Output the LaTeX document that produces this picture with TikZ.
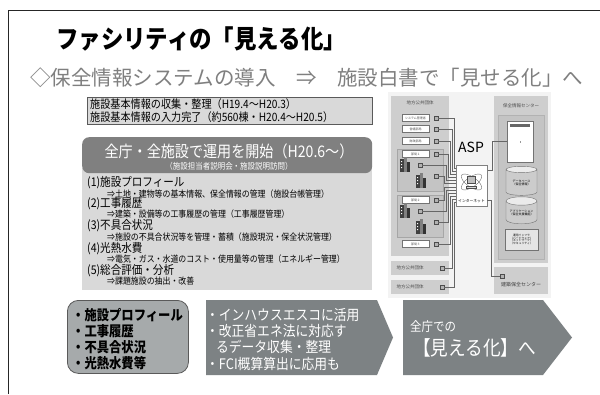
\documentclass[tikz,border=0pt]{standalone}
\usepackage{fontspec}
\usetikzlibrary{calc,shapes.geometric}
\newfontfamily\jp{Noto Sans CJK JP}
\newfontfamily\jpn[FakeStretch=0.88]{Noto Sans CJK JP}
\newcommand{\jpsize}[1]{\fontsize{#1}{#1}\selectfont}

\definecolor{subgray}{RGB}{127,127,127}
\definecolor{panel}{RGB}{217,217,217}
\definecolor{boxline}{RGB}{90,90,90}
\definecolor{darkbox}{RGB}{128,128,128}
\definecolor{arrowgray}{RGB}{125,130,132}
\definecolor{rbox}{RGB}{166,170,171}
\definecolor{diagbg}{RGB}{243,243,243}
\definecolor{orgfill}{RGB}{206,206,206}
\definecolor{orgfill2}{RGB}{196,196,196}

\tikzset{
  sbox/.style={draw=black!55, fill=white, line width=0.4pt, minimum width=27pt,
    minimum height=7pt, font=\jp\jpsize{3}, text=black!70},
  pc/.style={draw=black!70, fill=black!30, line width=0.3pt, minimum width=4pt,
    minimum height=3.5pt},
  wire/.style={draw=black!60, line width=0.5pt},
  itemhead/.style={anchor=west, font=\jpn\jpsize{12}},
  itemsub/.style={anchor=west, font=\jpn\jpsize{9}},
  bldg/.pic={
    \fill[black!75] (0,0) rectangle (4,-13);
    \fill[black!50] (4,0) rectangle (7,-15);
    \fill[black!80] (7,0) rectangle (10,-10);
    \fill[white] (1,-11) rectangle (2,-10) (1,-8) rectangle (2,-7) (1,-5) rectangle (2,-4);
  }
}

\begin{document}
\begin{tikzpicture}[x=1pt,y=-1pt, every node/.style={inner sep=0pt}]
\useasboundingbox (0,0) rectangle (600,394);
\fill[white] (0,0) rectangle (600,394);

% slide frame
\draw[black!85, line width=0.9pt] (8,394) -- (8,10) -- (600,10);

% headings
\node[anchor=west, font=\jpn\bfseries\jpsize{25.5}] (title) at (56,39) {ファシリティの「見える化」};
\node[anchor=west, text=subgray, font=\jp\jpsize{20.5}] (sub) at (30,78)
  {◇保全情報システムの導入　⇒　施設白書で「見せる化」へ};

% preparation box
\node[draw=boxline, fill=panel, line width=0.6pt, minimum width=285pt, minimum height=27pt,
  anchor=north west] (prep) at (87,97) {};
\node[anchor=west, font=\jpn\jpsize{11.5}] (prep1) at (90,104) {施設基本情報の収集・整理（H19.4～H20.3）};
\node[anchor=west, font=\jpn\jpsize{11.5}] (prep2) at (90,117) {施設基本情報の入力完了（約560棟・H20.4～H20.5）};

% list panel and start banner
\node[fill=panel, minimum width=290pt, minimum height=122pt, anchor=north west] (list) at (82,168) {};
\node[fill=darkbox, rounded corners=7pt, minimum width=290pt, minimum height=36pt,
  anchor=north west] (start) at (82,137) {};
\node[text=white, font=\jpn\jpsize{16}] (startT) at (229,151) {全庁・全施設で運用を開始（H20.6～）};
\node[text=white, font=\jpn\jpsize{8.5}] (startS) at (229,166) {（施設担当者説明会・施設説明訪問）};

\node[itemhead] (h1) at (87,183) {(1)施設プロフィール};
\node[itemsub]  (s1) at (107,194) {⇒土地・建物等の基本情報、保全情報の管理（施設台帳管理）};
\node[itemhead] (h2) at (87,204) {(2)工事履歴};
\node[itemsub]  (s2) at (107,214.5) {⇒建築・設備等の工事履歴の管理（工事履歴管理）};
\node[itemhead] (h3) at (87,226) {(3)不具合状況};
\node[itemsub]  (s3) at (107,237.5) {⇒施設の不具合状況等を管理・蓄積（施設現況・保全状況管理）};
\node[itemhead] (h4) at (87,248.5) {(4)光熱水費};
\node[itemsub]  (s4) at (107,259.5) {⇒電気・ガス・水道のコスト・使用量等の管理（エネルギー管理）};
\node[itemhead] (h5) at (87,270.5) {(5)総合評価・分析};
\node[itemsub]  (s5) at (107,281) {⇒課題施設の抽出・改善};

% ---------- ASP system diagram ----------
\fill[diagbg] (388,92) rectangle (551,298);

% local government side
\node[fill=orgfill, minimum width=58pt, minimum height=160pt, anchor=north west] (lg) at (391,96) {};
\node[font=\jp\jpsize{4.5}, text=black!70] (lgT) at (420,103) {地方公共団体};
\node[sbox] (sys) at (415.5,118) {システム管理者};
\node[sbox] (eizen) at (415.5,129) {営繕部局};
\node[sbox] (zaisei) at (415.5,141) {財政部局};
\node[pc] (pc1) at (436,118) {};
\node[pc] (pc2) at (436,129) {};
\node[pc] (pc3) at (436,141) {};

\node[draw=black!35, fill=orgfill2, minimum width=46pt, minimum height=42pt, anchor=north west] (bu1) at (397,149) {};
\node[sbox] (bu1L) at (415.5,154) {部局１};
\node[pc] (pc4) at (436,154) {};
\pic at (400,172) {bldg};
\pic at (416,188) {bldg};
\node[pc] (pc5) at (420,165) {};
\node[pc] (pc6) at (436,176) {};

\node[draw=black!35, fill=orgfill2, minimum width=46pt, minimum height=42pt, anchor=north west] (bu2) at (397,195) {};
\node[sbox] (bu2L) at (415.5,200) {部局２};
\node[pc] (pc7) at (436,200) {};
\pic at (400,218) {bldg};
\pic at (416,234) {bldg};
\node[pc] (pc8) at (420,211) {};
\node[pc] (pc9) at (436,222) {};

\node[sbox] (bu3L) at (415.5,244) {部局３};
\node[pc] (pc10) at (436,244) {};

\node[fill=orgfill, minimum width=58pt, minimum height=14pt, anchor=north west] (lg2) at (391,261) {};
\node[font=\jp\jpsize{4.5}, text=black!70] (lg2T) at (410,268) {地方公共団体};
\node[pc] (pc11) at (442,268) {};
\node[fill=orgfill, minimum width=58pt, minimum height=14pt, anchor=north west] (lg3) at (391,280) {};
\node[font=\jp\jpsize{4.5}, text=black!70] (lg3T) at (410,287) {地方公共団体};
\node[pc] (pc12) at (442,287) {};

% internet cloud box
\node[draw=black!50, fill=white, line width=0.5pt, minimum width=31pt, minimum height=41pt,
  anchor=north west] (inet) at (456,165) {};
\draw[black!55, line width=0.4pt, rotate around={35:(471.5,182)}] (471.5,182) ellipse (12 and 5);
\draw[black!55, line width=0.4pt, rotate around={-35:(471.5,182)}] (471.5,182) ellipse (12 and 5);
\node[draw=black!70, fill=black!25, line width=0.4pt, minimum width=8pt, minimum height=7pt] (mon) at (471.5,180) {};
\node[draw=black!70, fill=black!15, line width=0.3pt, minimum width=10pt, minimum height=2pt] (kbd) at (471.5,187) {};
\node[font=\jp\jpsize{3.8}] (inetL) at (471.5,201) {インターネット};
\node[font=\jp\jpsize{14}] (asp) at (471,147) {ASP};

% data centre side
\node[fill=orgfill, minimum width=54pt, minimum height=167pt, anchor=north west] (hz) at (494,96) {};
\node[font=\jp\jpsize{4.5}, text=black!70] (hzT) at (521,106) {保全情報センター};
\node[fill=orgfill2, draw=black!30, minimum width=46pt, minimum height=144pt, anchor=north west] (hzIn) at (498,115) {};
\node[draw=black!55, fill=white, minimum width=26pt, minimum height=41pt, anchor=north west] (srv) at (507,121) {};
\fill[black!60] (510,124) rectangle (530,127);
\fill[black!40] (519.5,141) rectangle (521,142.5);
\node[cylinder, shape border rotate=90, aspect=0.35, draw=black!55, cylinder uses custom fill,
  cylinder body fill=black!20, cylinder end fill=black!8, minimum width=31pt, minimum height=29pt,
  font=\jp\jpsize{3}, align=center] (db) at (521.5,182.5) {データベース\\（保全情報）};
\node[cylinder, shape border rotate=90, aspect=0.35, draw=black!55, cylinder uses custom fill,
  cylinder body fill=black!20, cylinder end fill=black!8, minimum width=31pt, minimum height=27pt,
  font=\jp\jpsize{3}, align=center] (app) at (521.5,212.5) {アプリケーション\\（保全支援機能）};
\node[draw=black!55, fill=black!10, minimum width=33pt, minimum height=21pt,
  font=\jp\jpsize{2.8}, align=center] (infra) at (521.5,239.5) {運用インフラ\\（ハードウェア）\\（ネットワーク）\\（セキュリティ）};

\node[fill=orgfill, minimum width=54pt, minimum height=27pt, anchor=north west] (kz) at (494,267) {};
\node[font=\jp\jpsize{5}, text=black!75] (kzT) at (521,285) {建築保全センター};
\node[pc] (pc13) at (502,276) {};

% network wiring
\foreach \p/\vx/\ey in {pc1/454/168, pc2/452/171, pc3/450/174, pc4/448/177, pc5/446/180, pc6/444/183,
                        pc7/444/187, pc8/446/190, pc9/448/193, pc10/450/196, pc11/452/199, pc12/454/202}{
  \coordinate (v-\p) at (\vx,\ey);
  \coordinate (e-\p) at (inet.west |- v-\p);
  \draw[wire] (\p.east) -| (v-\p) -- (e-\p);
}
\coordinate (sk1) at (492,170);
\coordinate (ie1) at (inet.east |- sk1);
\draw[wire] (srv.west) -| (sk1) -- (ie1);
\coordinate (ie2) at (487,200);
\coordinate (sk2) at (491,200);
\draw[wire] (ie2) -- (sk2) |- (pc13.west);

% ---------- bottom row ----------
\node[draw=boxline, fill=rbox, rounded corners=11pt, line width=0.8pt, minimum width=121pt,
  minimum height=73pt, anchor=north west] (summary) at (67,300) {};
\node[anchor=west, font=\jpn\bfseries\jpsize{14}] (m1) at (72,315) {・施設プロフィール};
\node[anchor=west, font=\jpn\bfseries\jpsize{14}] (m2) at (72,331) {・工事履歴};
\node[anchor=west, font=\jpn\bfseries\jpsize{14}] (m3) at (72,347) {・不具合状況};
\node[anchor=west, font=\jpn\bfseries\jpsize{14}] (m4) at (72,363) {・光熱水費等};

\coordinate (u1) at (206,300); \coordinate (u2) at (377,300); \coordinate (u3) at (393,337.5);
\coordinate (u4) at (377,375); \coordinate (u5) at (206,375);
\fill[arrowgray] (u1) -- (u2) -- (u3) -- (u4) -- (u5) -- cycle;
\node[anchor=west, text=white, font=\jpn\jpsize{14.5}] (a1) at (206,315) {・インハウスエスコに活用};
\node[anchor=west, text=white, font=\jpn\jpsize{14.5}] (a2) at (206,331) {・改正省エネ法に対応す};
\node[anchor=west, text=white, font=\jpn\jpsize{14.5}] (a3) at (216,347) {るデータ収集・整理};
\node[anchor=west, text=white, font=\jpn\jpsize{14.5}] (a4) at (206,364) {・FCI概算算出に応用も};

\coordinate (w1) at (403,300); \coordinate (w2) at (543,300); \coordinate (w3) at (572,337.5);
\coordinate (w4) at (543,375); \coordinate (w5) at (403,375);
\fill[arrowgray] (w1) -- (w2) -- (w3) -- (w4) -- (w5) -- cycle;
\node[anchor=west, text=white, font=\jpn\jpsize{13}] (b1) at (410,327) {全庁での};
\node[anchor=west, text=white, font=\jpn\jpsize{20}] (b2) at (413,348) {【見える化】へ};
\end{tikzpicture}
\end{document}
